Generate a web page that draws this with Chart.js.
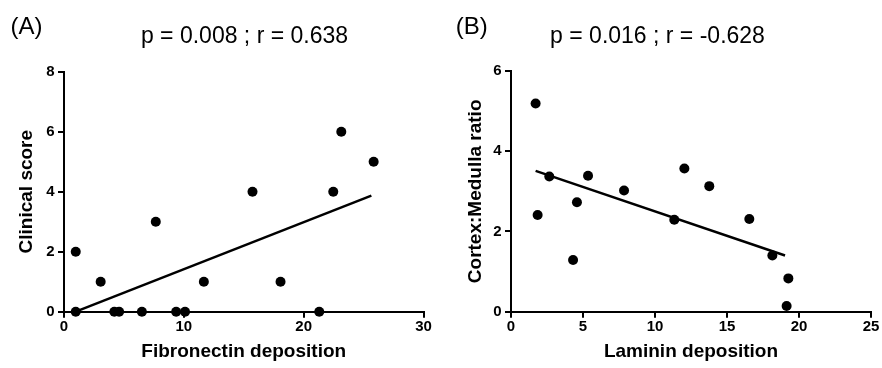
<!DOCTYPE html>
<html>
<head>
<meta charset="utf-8">
<script src="https://cdn.jsdelivr.net/npm/chart.js@4.4.1/dist/chart.umd.min.js"></script>
<style>
  html, body { margin: 0; padding: 0; background: #fff; }
  #wrap { display: flex; width: 882px; height: 368px; }
  canvas { display: block; }
</style>
</head>
<body>
<div id="wrap">
  <canvas id="chartA" width="441" height="368"></canvas>
  <canvas id="chartB" width="441" height="368"></canvas>
</div>
<script>
// ---------- Panel A data ----------
const fibronectinX = [0.98, 0.98, 3.06, 4.2, 4.6, 6.5, 7.66, 9.36, 10.1, 11.67, 15.73, 18.07, 21.3, 22.47, 23.14, 25.84];
const clinicalScore = [2, 0, 1, 0, 0, 0, 3, 0, 0, 1, 4, 1, 0, 4, 6, 5];
const fitLineAX = [0.98, 25.65];
const fitLineAY = [0.0, 3.87];
const xTicksA = [0, 10, 20, 30];
const yTicksA = [0, 2, 4, 6, 8];

// ---------- Panel B data ----------
const lamininX = [1.71, 1.85, 2.66, 4.31, 4.58, 5.35, 7.85, 11.34, 12.04, 13.77, 16.55, 18.15, 19.26, 19.14];
const cortexMedullaRatio = [5.19, 2.41, 3.37, 1.29, 2.73, 3.39, 3.02, 2.29, 3.57, 3.13, 2.31, 1.40, 0.83, 0.14];
const fitLineBX = [1.71, 19.03];
const fitLineBY = [3.51, 1.40];
const xTicksB = [0, 5, 10, 15, 20, 25];
const yTicksB = [0, 2, 4, 6];

// ---------- texts ----------
const panelLabels = ['(A)', '(B)'];
const panelTitles = ['p = 0.008 ; r = 0.638', 'p = 0.016 ; r = -0.628'];
const xTitles = ['Fibronectin deposition', 'Laminin deposition'];
const yTitles = ['Clinical score', 'Cortex:Medulla ratio'];

const FONT = '"Liberation Sans", Arial, Helvetica, sans-serif';

const toPoints = (xs, ys) => xs.map((x, i) => ({ x: x, y: ys[i] }));

const panelText = {
  id: 'panelText',
  afterDraw(chart, args, opts) {
    const ctx = chart.ctx;
    ctx.save();
    ctx.fillStyle = '#000';
    ctx.textBaseline = 'alphabetic';
    ctx.font = '24px ' + FONT;
    ctx.textAlign = 'left';
    ctx.fillText(opts.label, opts.labelX, opts.labelY);
    ctx.font = '23px ' + FONT;
    ctx.textAlign = 'center';
    ctx.fillText(opts.title, opts.titleX, opts.titleY);
    ctx.restore();
  }
};

function axisCommon(min, max, ticksList, title, titlePadding, fitFn) {
  return {
    type: 'linear',
    min: min,
    max: max,
    afterBuildTicks: (scale) => { scale.ticks = ticksList.map(v => ({ value: v })); },
    ticks: {
      color: '#000',
      font: { family: FONT, size: 15, weight: 'bold' },
      padding: 0
    },
    grid: {
      drawOnChartArea: false,
      drawTicks: true,
      tickLength: 6,
      color: '#000',
      lineWidth: 2
    },
    border: { display: true, color: '#000', width: 2 },
    title: {
      display: true,
      text: title,
      color: '#000',
      font: { family: FONT, size: 19, weight: 'bold' },
      padding: titlePadding
    },
    afterFit: fitFn
  };
}

function makeChart(id, pts, linePts, xMin, xMax, xT, yMin, yMax, yT, idx, cfg) {
  const xAxis = axisCommon(xMin, xMax, xT, xTitles[idx], { top: 0, bottom: cfg.xTitlePad }, (s) => { s.height = cfg.xHeight; });
  const yAxis = axisCommon(yMin, yMax, yT, yTitles[idx], { top: cfg.yTitlePad, bottom: 0 }, (s) => { s.width = cfg.yWidth; });
  yAxis.ticks.padding = 3.5;
  return new Chart(document.getElementById(id), {
    type: 'scatter',
    data: {
      datasets: [
        {
          data: pts,
          pointRadius: 5,
          pointHoverRadius: 5,
          backgroundColor: '#000',
          borderColor: '#000',
          borderWidth: 0,
          showLine: false,
          clip: false
        },
        {
          data: linePts,
          showLine: true,
          borderColor: '#000',
          borderWidth: 2.5,
          pointRadius: 0,
          fill: false,
          clip: false
        }
      ]
    },
    options: {
      responsive: false,
      animation: false,
      devicePixelRatio: 1,
      layout: { padding: { left: 0, right: cfg.rightPad, top: cfg.topPad, bottom: 0 } },
      plugins: {
        legend: { display: false },
        tooltip: { enabled: false },
        panelText: {
          label: panelLabels[idx], labelX: cfg.labelX, labelY: cfg.labelY,
          title: panelTitles[idx], titleX: cfg.titleX, titleY: cfg.titleY
        }
      },
      scales: { x: xAxis, y: yAxis }
    },
    plugins: [panelText]
  });
}

makeChart('chartA', toPoints(fibronectinX, clinicalScore), toPoints(fitLineAX, fitLineAY),
  0, 30, xTicksA, 0, 8, yTicksA, 0,
  { xHeight: 56.3, yWidth: 64, rightPad: 17.5, topPad: 71.7, xTitlePad: 4.9, yTitlePad: 15.3,
    labelX: 10.5, labelY: 33.5, titleX: 244.5, titleY: 42.5 });

makeChart('chartB', toPoints(lamininX, cortexMedullaRatio), toPoints(fitLineBX, fitLineBY),
  0, 25, xTicksB, 0, 6, yTicksB, 1,
  { xHeight: 56.3, yWidth: 70, rightPad: 11, topPad: 71, xTitlePad: 4.9, yTitlePad: 23.7,
    labelX: 14.7, labelY: 33.5, titleX: 216.5, titleY: 42.5 });
</script>
</body>
</html>
